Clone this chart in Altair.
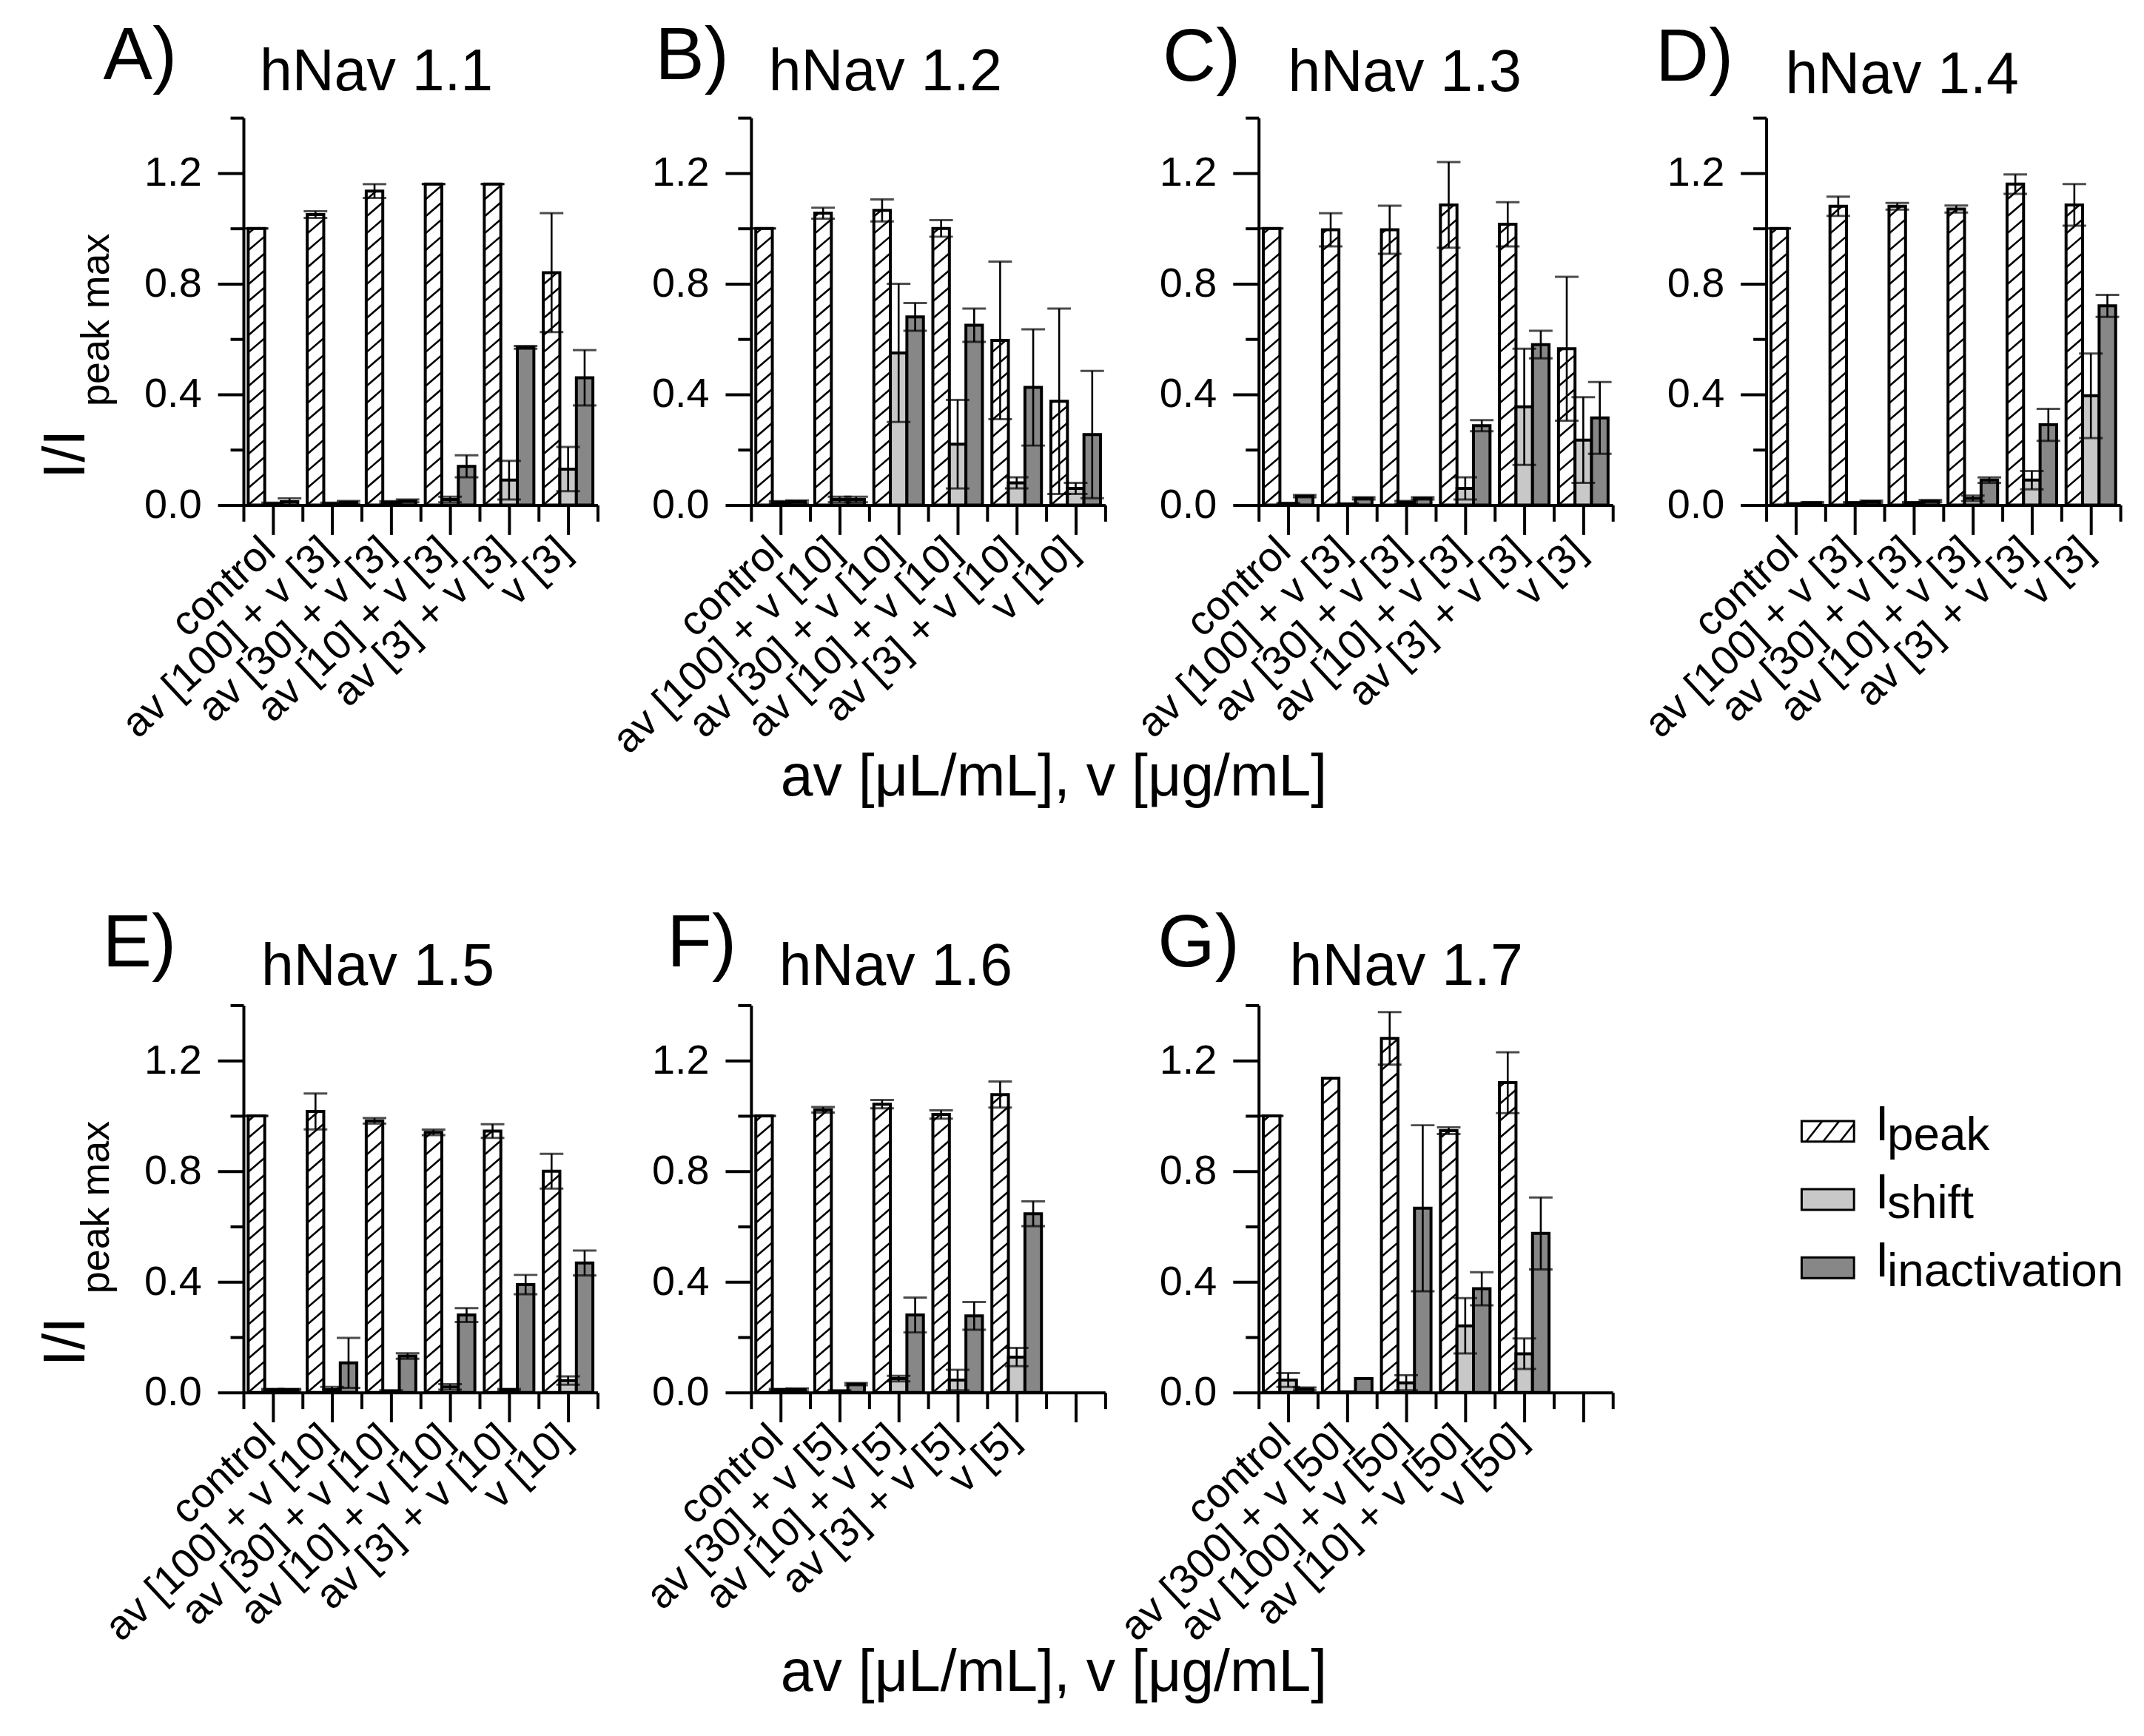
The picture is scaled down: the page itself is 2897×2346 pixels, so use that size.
import json

import altair as alt
import numpy as np
import pandas as pd

# ---------------- data ----------------
LETTERS = ["A)", "B)", "C)", "D)", "E)", "F)", "G)"]
TITLES = ["hNav 1.1", "hNav 1.2", "hNav 1.3", "hNav 1.4", "hNav 1.5", "hNav 1.6", "hNav 1.7"]

LABELS_A = ["control", "av [100] + v [3]", "av [30] + v [3]", "av [10] + v [3]", "av [3] + v [3]", "v [3]"]
PEAK_A = [1.0, 1.05, 1.135, 1.16, 1.16, 0.84]
PEAK_ERR_A = [0.0, 0.012, 0.025, 0.0, 0.0, 0.215]
SHIFT_A = [0.005, 0.005, 0.01, 0.02, 0.09, 0.13]
SHIFT_ERR_A = [0.004, 0.004, 0.004, 0.01, 0.07, 0.08]
INACT_A = [0.012, 0.01, 0.015, 0.14, 0.57, 0.46]
INACT_ERR_A = [0.012, 0.005, 0.005, 0.04, 0.005, 0.10]

LABELS_B = ["control", "av [100] + v [10]", "av [30] + v [10]", "av [10] + v [10]", "av [3] + v [10]", "v [10]"]
PEAK_B = [1.0, 1.055, 1.065, 1.0, 0.595, 0.375]
PEAK_ERR_B = [0.0, 0.02, 0.04, 0.03, 0.285, 0.335]
SHIFT_B = [0.01, 0.02, 0.55, 0.22, 0.08, 0.06]
SHIFT_ERR_B = [0.004, 0.01, 0.25, 0.16, 0.02, 0.02]
INACT_B = [0.012, 0.02, 0.68, 0.65, 0.425, 0.255]
INACT_ERR_B = [0.005, 0.01, 0.05, 0.06, 0.21, 0.23]

LABELS_C = ["control", "av [100] + v [3]", "av [30] + v [3]", "av [10] + v [3]", "av [3] + v [3]", "v [3]"]
PEAK_C = [1.0, 0.995, 0.995, 1.085, 1.015, 0.565]
PEAK_ERR_C = [0.0, 0.06, 0.087, 0.155, 0.08, 0.26]
SHIFT_C = [0.005, 0.003, 0.01, 0.06, 0.355, 0.235]
SHIFT_ERR_C = [0.003, 0.003, 0.005, 0.04, 0.21, 0.155]
INACT_C = [0.032, 0.024, 0.024, 0.287, 0.58, 0.315]
INACT_ERR_C = [0.004, 0.004, 0.004, 0.02, 0.05, 0.13]

LABELS_D = ["control", "av [100] + v [3]", "av [30] + v [3]", "av [10] + v [3]", "av [3] + v [3]", "v [3]"]
PEAK_D = [1.0, 1.08, 1.08, 1.07, 1.16, 1.085]
PEAK_ERR_D = [0.0, 0.035, 0.012, 0.013, 0.035, 0.075]
SHIFT_D = [0.004, 0.008, 0.008, 0.024, 0.09, 0.395]
SHIFT_ERR_D = [0.003, 0.003, 0.003, 0.01, 0.033, 0.153]
INACT_D = [0.008, 0.012, 0.014, 0.09, 0.29, 0.72]
INACT_ERR_D = [0.003, 0.004, 0.004, 0.01, 0.058, 0.04]

LABELS_E = ["control", "av [100] + v [10]", "av [30] + v [10]", "av [10] + v [10]", "av [3] + v [10]", "v [10]"]
PEAK_E = [1.0, 1.016, 0.982, 0.94, 0.945, 0.80]
PEAK_ERR_E = [0.0, 0.065, 0.01, 0.01, 0.025, 0.063]
SHIFT_E = [0.01, 0.01, 0.005, 0.02, 0.01, 0.043]
SHIFT_ERR_E = [0.003, 0.01, 0.003, 0.01, 0.003, 0.015]
INACT_E = [0.01, 0.107, 0.132, 0.28, 0.39, 0.468]
INACT_ERR_E = [0.003, 0.09, 0.01, 0.025, 0.035, 0.045]

LABELS_F = ["control", "av [30] + v [5]", "av [10] + v [5]", "av [3] + v [5]", "v [5]"]
PEAK_F = [1.0, 1.022, 1.042, 1.005, 1.077]
PEAK_ERR_F = [0.0, 0.01, 0.015, 0.015, 0.047]
SHIFT_F = [0.01, 0.005, 0.05, 0.045, 0.128]
SHIFT_ERR_F = [0.003, 0.003, 0.01, 0.037, 0.033]
INACT_F = [0.01, 0.03, 0.28, 0.277, 0.646]
INACT_ERR_F = [0.005, 0.004, 0.063, 0.05, 0.045]

LABELS_G = ["control", "av [300] + v [50]", "av [100] + v [50]", "av [10] + v [50]", "v [50]"]
PEAK_G = [1.0, 1.136, 1.28, 0.946, 1.12]
PEAK_ERR_G = [0.0, None, 0.095, 0.012, 0.11]
SHIFT_G = [0.045, 0.002, 0.035, 0.241, 0.14]
SHIFT_ERR_G = [0.025, None, 0.027, 0.1, 0.055]
INACT_G = [0.013, 0.05, 0.666, 0.375, 0.575]
INACT_ERR_G = [0.005, None, 0.3, 0.06, 0.13]

SERIES = ["peak", "shift", "inactivation"]
X_TITLE = "av [μL/mL], v [μg/mL]"
Y_TICKS = [0.0, 0.2, 0.4, 0.6, 0.8, 1.0, 1.2, 1.4]
X_TICKS = [0.5, 1, 1.5, 2, 2.5, 3, 3.5, 4, 4.5, 5, 5.5, 6, 6.5]

PANELS = [
    (LABELS_A, PEAK_A, PEAK_ERR_A, SHIFT_A, SHIFT_ERR_A, INACT_A, INACT_ERR_A),
    (LABELS_B, PEAK_B, PEAK_ERR_B, SHIFT_B, SHIFT_ERR_B, INACT_B, INACT_ERR_B),
    (LABELS_C, PEAK_C, PEAK_ERR_C, SHIFT_C, SHIFT_ERR_C, INACT_C, INACT_ERR_C),
    (LABELS_D, PEAK_D, PEAK_ERR_D, SHIFT_D, SHIFT_ERR_D, INACT_D, INACT_ERR_D),
    (LABELS_E, PEAK_E, PEAK_ERR_E, SHIFT_E, SHIFT_ERR_E, INACT_E, INACT_ERR_E),
    (LABELS_F, PEAK_F, PEAK_ERR_F, SHIFT_F, SHIFT_ERR_F, INACT_F, INACT_ERR_F),
    (LABELS_G, PEAK_G, PEAK_ERR_G, SHIFT_G, SHIFT_ERR_G, INACT_G, INACT_ERR_G),
]

# ---------------- layout / style ----------------
FONT = "Liberation Sans"
W, H = 480, 525
XMIN, XMAX, YMAX = 0.5, 6.5, 1.4
BAR_W = 0.28
OFFSETS = {"peak": -0.28, "shift": 0.0, "inactivation": 0.28}
FILLS = ["white", "#c8c8c8", "#878787"]
HATCH_STEP = 23      # px between hatch lines (vertical)
HATCH_SLOPE = 0.86   # rise / run in px

# panel letter and title offsets relative to the plot origin (px)
LETTER_DX = [-190, -130, -130, -150, -191, -114, -137]
LETTER_DY = [-52, -52, -50, -50, -53, -53, -53]
TITLE_DX = [22, 24, 40, 26, 24, 38, 42]
TITLE_DY = [-37, -37, -36, -33, -27, -27, -27]

xs = alt.Scale(domain=[XMIN, XMAX], nice=False, zero=False)
ys = alt.Scale(domain=[0, YMAX], nice=False)


def bar_table(labels, peak, peak_err, shift, shift_err, inact, inact_err):
    rows = []
    for s, vals, errs in [("peak", peak, peak_err), ("shift", shift, shift_err),
                          ("inactivation", inact, inact_err)]:
        for i, (v, e) in enumerate(zip(vals, errs)):
            c = i + 1 + OFFSETS[s]
            rows.append({
                "series": s, "center": c, "left": c - BAR_W / 2, "right": c + BAR_W / 2,
                "value": v, "base": 0.0,
                "lo": None if e is None else v - e,
                "hi": None if e is None else v + e,
            })
    return pd.DataFrame(rows)


def hatch_table(bars):
    # diagonal hatch segments clipped to each I_peak bar
    sx = W / (XMAX - XMIN)
    sy = H / YMAX
    rows = []
    for _, b in bars[bars["series"] == "peak"].iterrows():
        w = BAR_W * sx
        top = b["value"] * sy
        j0 = int(np.floor(-HATCH_SLOPE * w / HATCH_STEP))
        j1 = int(np.ceil(top / HATCH_STEP))
        for j in range(j0, j1 + 1):
            c = j * HATCH_STEP
            u0 = max(0.0, -c / HATCH_SLOPE)
            u1 = min(w, (top - c) / HATCH_SLOPE)
            if u1 - u0 > 2:
                rows.append({
                    "x": b["left"] + u0 / sx, "x2": b["left"] + u1 / sx,
                    "y": (c + HATCH_SLOPE * u0) / sy, "y2": (c + HATCH_SLOPE * u1) / sy,
                })
    return pd.DataFrame(rows)


def make_panel(k):
    labels, peak, peak_err, shift, shift_err, inact, inact_err = PANELS[k]
    bars = bar_table(labels, peak, peak_err, shift, shift_err, inact, inact_err)
    hatch = hatch_table(bars)
    errs = bars.dropna(subset=["lo", "hi"])

    label_expr = (
        f"datum.value % 1 == 0 && datum.value <= {len(labels)} ? "
        f"{json.dumps(labels)}[datum.value - 1] : ''"
    )
    x_axis = alt.Axis(
        values=X_TICKS, labelExpr=label_expr, title=None, grid=False,
        labelAngle=-43, labelAlign="right", labelBaseline="alphabetic",
        labelFontSize=56, labelFont=FONT, labelColor="black",
        labelPadding=26, labelOffset=6,
        labelOverlap=False, labelFlush=False, labelLimit=3000,
        tickSize=alt.condition("datum.value % 1 == 0", alt.value(40), alt.value(22)),
        tickWidth=4, tickColor="black", domainWidth=4, domainColor="black",
    )
    y_axis = alt.Axis(
        values=Y_TICKS, title=None, grid=False,
        labelExpr="round(datum.value * 10) % 4 == 0 ? format(datum.value, '.1f') : ''",
        labelFontSize=56, labelFont=FONT, labelColor="black", labelPadding=22,
        labelOverlap=False, labelFlush=False,
        tickSize=alt.condition("round(datum.value * 10) % 4 == 0", alt.value(35), alt.value(18)),
        tickWidth=4, tickColor="black", domainWidth=4, domainColor="black",
    )

    rects = alt.Chart(bars).mark_rect(stroke="black", strokeWidth=4).encode(
        x=alt.X("left:Q", scale=xs, axis=x_axis),
        x2="right:Q",
        y=alt.Y("value:Q", scale=ys, axis=y_axis),
        y2="base:Q",
        fill=alt.Fill("series:N", scale=alt.Scale(domain=SERIES, range=FILLS), legend=None),
    )
    lines = alt.Chart(hatch).mark_rule(color="black", strokeWidth=2.6).encode(
        x=alt.X("x:Q", scale=xs, axis=x_axis), x2="x2:Q",
        y=alt.Y("y:Q", scale=ys, axis=y_axis), y2="y2:Q",
    )
    stems = alt.Chart(errs).mark_rule(color="black", strokeWidth=2.6).encode(
        x=alt.X("center:Q", scale=xs, axis=x_axis),
        y=alt.Y("lo:Q", scale=ys, axis=y_axis), y2="hi:Q",
    )
    caps = alt.Chart(errs).transform_fold(["lo", "hi"], as_=["end", "level"]).mark_tick(
        orient="horizontal", size=32, thickness=3, color="black"
    ).encode(
        x=alt.X("center:Q", scale=xs, axis=x_axis),
        y=alt.Y("level:Q", scale=ys, axis=y_axis),
    )
    letter = alt.Chart(pd.DataFrame({"t": [LETTERS[k]]})).mark_text(
        font=FONT, fontSize=100, align="left", baseline="alphabetic", color="black"
    ).encode(text="t:N", x=alt.value(LETTER_DX[k]), y=alt.value(LETTER_DY[k]))
    title = alt.Chart(pd.DataFrame({"t": [TITLES[k]]})).mark_text(
        font=FONT, fontSize=79, align="left", baseline="alphabetic", color="black"
    ).encode(text="t:N", x=alt.value(TITLE_DX[k]), y=alt.value(TITLE_DY[k]))

    layers = [rects, lines, stems, caps, letter, title]

    if k in (0, 4):
        ymain = alt.Chart(pd.DataFrame({"t": ["I/I"]})).mark_text(
            font=FONT, fontSize=80, angle=270, align="center", baseline="alphabetic", color="black"
        ).encode(text="t:N", x=alt.value(-216), y=alt.value(456))
        ysub = alt.Chart(pd.DataFrame({"t": ["peak max"]})).mark_text(
            font=FONT, fontSize=54, angle=270, align="center", baseline="alphabetic", color="black"
        ).encode(text="t:N", x=alt.value(-183), y=alt.value(274))
        layers += [ymain, ysub]
    if k in (1, 5):
        xt = alt.Chart(pd.DataFrame({"t": [X_TITLE]})).mark_text(
            font=FONT, fontSize=79, align="left", baseline="alphabetic", color="black"
        ).encode(text="t:N", x=alt.value(40), y=alt.value(919 if k == 1 else 930))
        layers.append(xt)

    return alt.layer(*layers).properties(width=W, height=H)


def make_legend():
    lx = alt.Scale(domain=[0, W], nice=False, zero=False)
    ly = alt.Scale(domain=[0, H], nice=False, zero=False, reverse=True)
    rows = []
    for i, s in enumerate(SERIES):
        yc = 171 + 92.5 * i
        rows.append({"series": s, "x0": 48, "x1": 119, "y0": yc - 14, "y1": yc + 14,
                     "tx": 148, "ty": yc + 12, "sx": 164, "sy": yc + 25,
                     "main": "I", "sub": s})
    leg = pd.DataFrame(rows)
    # three hatch strokes in the I_peak swatch
    hrows = []
    p = leg.iloc[0]
    for j in range(3):
        xa = p["x0"] + 6 + 23 * j
        xb = min(xa + 22, p["x1"])
        hrows.append({"x": xa, "x2": xb, "y": p["y1"], "y2": p["y1"] - 28 * (xb - xa) / 22})
    hatch = pd.DataFrame(hrows)

    boxes = alt.Chart(leg).mark_rect(stroke="black", strokeWidth=3).encode(
        x=alt.X("x0:Q", scale=lx, axis=None), x2="x1:Q",
        y=alt.Y("y0:Q", scale=ly, axis=None), y2="y1:Q",
        fill=alt.Fill("series:N", scale=alt.Scale(domain=SERIES, range=FILLS), legend=None),
    )
    strokes = alt.Chart(hatch).mark_rule(color="black", strokeWidth=2.6).encode(
        x=alt.X("x:Q", scale=lx, axis=None), x2="x2:Q",
        y=alt.Y("y:Q", scale=ly, axis=None), y2="y2:Q",
    )
    main = alt.Chart(leg).mark_text(
        font=FONT, fontSize=66, align="left", baseline="alphabetic", color="black"
    ).encode(x=alt.X("tx:Q", scale=lx, axis=None), y=alt.Y("ty:Q", scale=ly, axis=None), text="main:N")
    sub = alt.Chart(leg).mark_text(
        font=FONT, fontSize=64, align="left", baseline="alphabetic", color="black"
    ).encode(x=alt.X("sx:Q", scale=lx, axis=None), y=alt.Y("sy:Q", scale=ly, axis=None), text="sub:N")
    return alt.layer(boxes, strokes, main, sub).properties(width=W, height=H)


panels = [make_panel(k) for k in range(7)]
chart = alt.concat(
    *panels, make_legend(), columns=4, bounds="flush",
    spacing={"row": 678, "column": 208},
).properties(
    padding={"left": 42, "top": 16, "right": 10, "bottom": 10},
    background="white",
).configure_view(stroke=None)

chart.save("out.html", embed_options={"renderer": "svg", "actions": False})
